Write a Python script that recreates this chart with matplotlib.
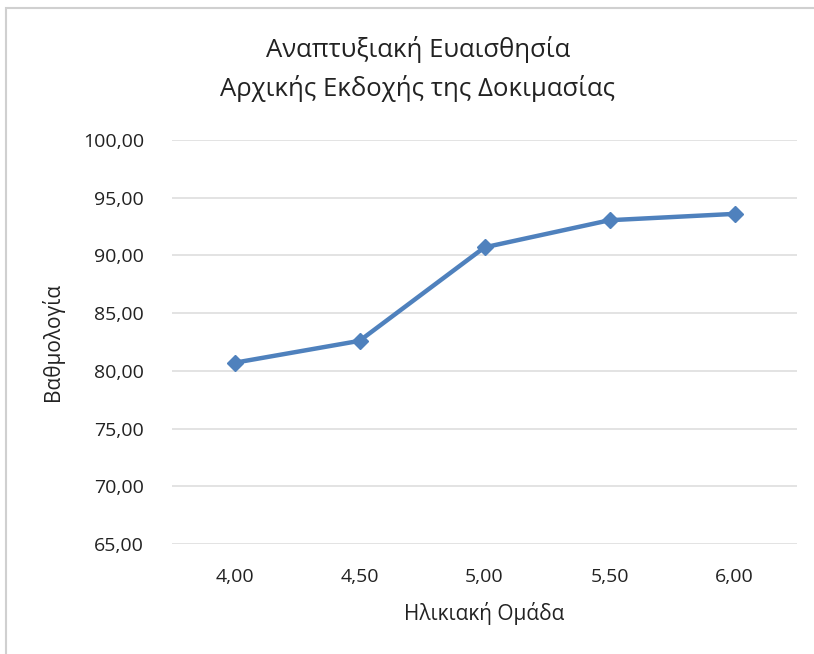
import matplotlib
matplotlib.use("Agg")
import matplotlib.pyplot as plt
from matplotlib.ticker import FuncFormatter, MultipleLocator
from matplotlib.patches import Rectangle

plt.rcParams['font.family'] = ['Open Sans', 'Noto Sans', 'DejaVu Sans']

categories = ['4,00', '4,50', '5,00', '5,50', '6,00']
values = [80.70, 82.60, 90.70, 93.05, 93.60]
title = 'Αναπτυξιακή Ευαισθησία\nΑρχικής Εκδοχής της Δοκιμασίας'
xlabel = 'Ηλικιακή Ομάδα'
ylabel = 'Βαθμολογία'

W, H = 814, 654
fig = plt.figure(figsize=(W / 100, H / 100), dpi=100)
fig.patch.set_facecolor('white')

# chart area border (light gray)
fig.add_artist(Rectangle((6 / W, -0.05), 1.2, (H - 8) / H + 0.05, transform=fig.transFigure,
                         fill=False, edgecolor='#D0D0D0', linewidth=1.5))

ax = fig.add_axes([172 / W, (H - 544) / H, (797 - 172) / W, (544 - 140) / H])
x = list(range(len(categories)))
ax.plot(x, values, color='#4F81BD', linewidth=3.2, marker='D', markersize=8,
        markerfacecolor='#4F81BD', markeredgecolor='#4F81BD', zorder=3)

ax.set_xlim(-0.5, len(categories) - 0.5)
ax.set_ylim(65, 100)
ax.yaxis.set_major_locator(MultipleLocator(5))
ax.yaxis.set_major_formatter(FuncFormatter(lambda v, p: f'{v:.2f}'.replace('.', ',')))
ax.set_xticks(x)
ax.set_xticklabels(categories)

ax.grid(axis='y', color='#DEDEDE', linewidth=1.2)
ax.set_axisbelow(True)
for s in ax.spines.values():
    s.set_visible(False)
ax.tick_params(axis='both', length=0, labelsize=14, colors='#222222')
ax.tick_params(axis='y', pad=20)
ax.tick_params(axis='x', pad=17)

ax.set_xlabel(xlabel, fontsize=15, color='#222222', labelpad=12)
ax.set_ylabel(ylabel, fontsize=15, color='#222222', labelpad=14)

fig.text(418 / W, 1 - 69 / H, title, ha='center', va='center', fontsize=18.5,
         color='#222222', linespacing=1.6)

fig.savefig('out.png', dpi=100, facecolor='white')
